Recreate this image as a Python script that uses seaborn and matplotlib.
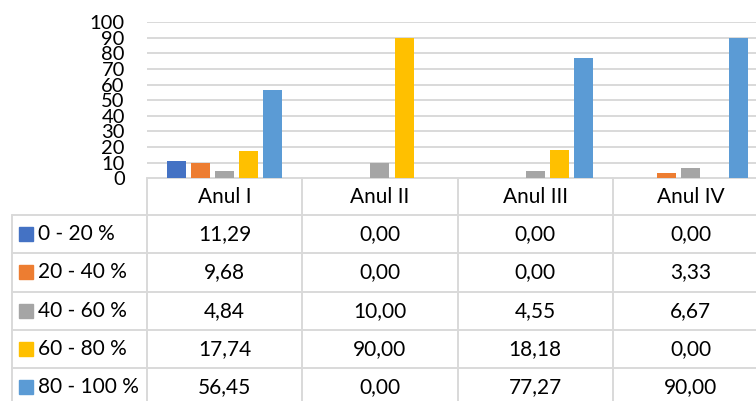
import numpy as np
import pandas as pd
import matplotlib
matplotlib.use("Agg")
import matplotlib.pyplot as plt
import seaborn as sns

categories = ["Anul I", "Anul II", "Anul III", "Anul IV"]
series = ["0 - 20 %", "20 - 40 %", "40 - 60 %", "60 - 80 %", "80 - 100 %"]
v_0_20 = [11.29, 0.00, 0.00, 0.00]
v_20_40 = [9.68, 0.00, 0.00, 3.33]
v_40_60 = [4.84, 10.00, 4.55, 6.67]
v_60_80 = [17.74, 90.00, 18.18, 0.00]
v_80_100 = [56.45, 0.00, 77.27, 90.00]
yticks = list(range(0, 101, 10))

colors = ["#4472C4", "#ED7D31", "#A5A5A5", "#FFC000", "#5B9BD5"]
grid_col = "#D9D9D9"

rows = [v_0_20, v_20_40, v_40_60, v_60_80, v_80_100]
df = pd.DataFrame(
    [(c, s, v) for s, vals in zip(series, rows) for c, v in zip(categories, vals)],
    columns=["an", "interval", "val"],
)

sns.set_theme(style="white")
plt.rcParams["font.family"] = ["Lato", "DejaVu Sans"]

W, H = 756, 401
fig = plt.figure(figsize=(W / 100, H / 100), dpi=100)

# layout in pixels
x0, colw = 147.0, 155.3
y_top, y_zero = 22.0, 178.3
left = 11.7
head_h, row_h = 36.7, 38.3
fs = 15

ax = fig.add_axes([x0 / W, (H - y_zero) / H, 4 * colw / W, (y_zero - y_top) / H])
sns.barplot(data=df, x="an", y="val", hue="interval", palette=colors,
            saturation=1, width=0.775, gap=0.21, linewidth=0,
            ax=ax, legend=False, zorder=3)
ax.set_xlim(-0.5, 3.5)
ax.set_ylim(0, 100)
ax.set_yticks(yticks)
ax.set_yticklabels([str(t) for t in yticks], fontsize=14.5, color="#000000")
ax.tick_params(axis="y", length=0, pad=16)
ax.set_xticks([])
ax.set_xlabel("")
ax.set_ylabel("")
for t in yticks[1:]:
    ax.axhline(t, color=grid_col, lw=1.4, zorder=1)
for sp in ax.spines.values():
    sp.set_visible(False)
ax.patch.set_alpha(0)

# data table drawn below the plot
tax = fig.add_axes([0, 0, 1, 1], zorder=-1)
tax.set_xlim(0, W)
tax.set_ylim(H, 0)
tax.axis("off")

lc = dict(color=grid_col, lw=1.4)
col_x = [x0 + i * colw for i in range(5)]
row_y = [y_zero + head_h + i * row_h for i in range(len(series) + 1)]
tax.plot([x0, col_x[-1]], [y_zero, y_zero], **lc)
for y in row_y:
    tax.plot([left, col_x[-1]], [y, y], **lc)
for x in col_x:
    tax.plot([x, x], [y_zero, H + 5], **lc)
tax.plot([left, left], [row_y[0], H + 5], **lc)

for i, c in enumerate(categories):
    tax.text(x0 + (i + 0.5) * colw, y_zero + head_h / 2, c,
             ha="center", va="center", fontsize=fs, color="black")

for j, (s, vals) in enumerate(zip(series, rows)):
    yc = row_y[j] + row_h / 2
    tax.add_patch(plt.Rectangle((19, yc - 7), 14, 14, color=colors[j]))
    tax.text(38, yc, s, ha="left", va="center", fontsize=fs, color="black")
    for i, v in enumerate(vals):
        tax.text(x0 + (i + 0.5) * colw, yc, f"{v:.2f}".replace(".", ","),
                 ha="center", va="center", fontsize=fs, color="black")

fig.savefig("out.png", dpi=100)
